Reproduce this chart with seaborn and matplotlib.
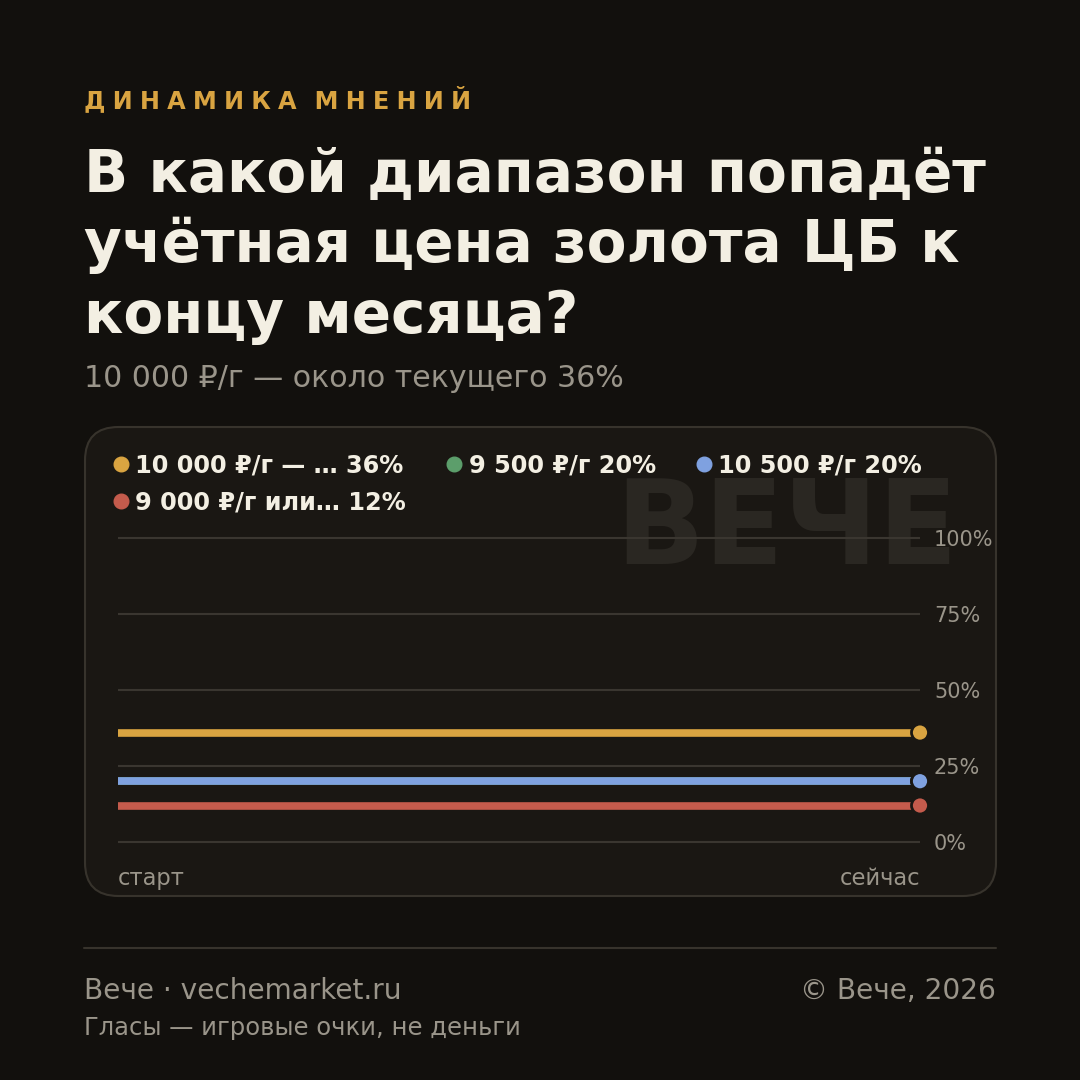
import numpy as np
import pandas as pd
import matplotlib
matplotlib.use("Agg")
import matplotlib.pyplot as plt
from matplotlib.patches import FancyBboxPatch
from matplotlib.lines import Line2D
import seaborn as sns

# ---- data ----
stages = ["старт", "сейчас"]
options = ["10 000 ₽/г — …", "9 500 ₽/г", "10 500 ₽/г", "9 000 ₽/г или…"]
start_values = [36, 20, 20, 12]
now_values = [36, 20, 20, 12]
option_colors = ["#d9a441", "#5c9e6b", "#7fa1e0", "#c45b4c"]
y_ticks = [0, 25, 50, 75, 100]
y_tick_labels = ["0%", "25%", "50%", "75%", "100%"]

kicker = "ДИНАМИКА МНЕНИЙ"
title_lines = ["В какой диапазон попадёт", "учётная цена золота ЦБ к", "концу месяца?"]
subtitle = "10 000 ₽/г — около текущего 36%"
watermark = "ВЕЧЕ"
footer_left = "Вече · vechemarket.ru"
footer_right = "© Вече, 2026"
footer_note = "Гласы — игровые очки, не деньги"

# ---- style ----
BG = "#12100d"
CARD = "#1a1713"
CARD_EDGE = "#37332c"
GRID = "#3a3630"
CREAM = "#f3efe3"
GREY = "#9a958a"
GOLD = "#d9a441"

sns.set_theme(style="dark")
plt.rcParams["font.family"] = ["DejaVu Sans"]

W = 1080.0
fig = plt.figure(figsize=(10.8, 10.8), dpi=100, facecolor=BG)

def fy(px):
    return 1 - px / W

def fx(px):
    return px / W

# card
card = FancyBboxPatch((fx(85), fy(896)), 911 / W, 469 / W,
                      boxstyle="round,pad=0,rounding_size=0.031",
                      transform=fig.transFigure, fc=CARD, ec=CARD_EDGE, lw=1.5, zorder=-2)
fig.patches.append(card)

# watermark
fig.text(fx(958), fy(564), watermark, fontsize=84, fontweight="bold", color="#2a2722",
         ha="right", va="baseline", zorder=-1)

# axes
px_per_unit = 304 / 100.0
ax = fig.add_axes([fx(118), fy(850), (920 - 118) / W, 320 / W])
ax.set_facecolor("none")
ax.patch.set_alpha(0)

rows = []
for i, opt in enumerate(options):
    rows.append({"stage": 0, "option": opt, "value": start_values[i]})
    rows.append({"stage": 1, "option": opt, "value": now_values[i]})
df = pd.DataFrame(rows)

pal = dict(zip(options, option_colors))
sns.lineplot(data=df, x="stage", y="value", hue="option", hue_order=options,
             palette=pal, linewidth=5.5, legend=False, ax=ax, zorder=3)
for ln in ax.lines:
    ln.set_solid_capstyle("butt")
    ln.set_clip_on(False)

last = df[df["stage"] == 1]
sns.scatterplot(data=last, x="stage", y="value", hue="option", hue_order=options,
                palette=pal, s=150, edgecolor=CARD, linewidth=2, legend=False,
                ax=ax, zorder=5, clip_on=False)

ax.set_xlim(0, 1)
ax.set_ylim(-8 / px_per_unit, 100 + 8 / px_per_unit)
ax.set_yticks(y_ticks)
ax.set_yticklabels(y_tick_labels)
ax.yaxis.tick_right()
ax.tick_params(axis="y", length=0, pad=10, labelsize=15, labelcolor=GREY)
ax.set_xticks([0, 1])
ax.set_xticklabels(stages)
ax.tick_params(axis="x", length=0, pad=12, labelsize=16.3, labelcolor=GREY)
xl = ax.get_xticklabels()
xl[0].set_ha("left")
xl[1].set_ha("right")
ax.set_xlabel("")
ax.set_ylabel("")
ax.grid(False)
for yv in y_ticks:
    ax.axhline(yv, color=GRID, lw=1.5, zorder=1)
for s in ax.spines.values():
    s.set_visible(False)

# legend (ordered so that column-major fill gives row1: 1,2,3; row2: 4)
order = [0, 3, 1, 2]
handles = []
for i in order:
    handles.append(Line2D([], [], marker="o", linestyle="none", markersize=10.5,
                          markerfacecolor=option_colors[i], markeredgecolor=option_colors[i],
                          label=f"{options[i]} {now_values[i]}%"))
leg = fig.legend(handles=handles, loc="upper left", bbox_to_anchor=(fx(113), fy(453)),
                 ncol=3, frameon=False, borderpad=0, borderaxespad=0,
                 handlelength=0.65, handletextpad=0.28, columnspacing=1.67, labelspacing=0.57,
                 prop={"size": 17.3, "weight": "bold"})
for t in leg.get_texts():
    t.set_color(CREAM)

# header texts (letter-spaced kicker)
spacer = "\u2009\u200a"
kick = "\u2009 \u2009".join(spacer.join(list(w)) for w in kicker.split(" "))
fig.text(fx(84), fy(108), kick, fontsize=17.3, fontweight="bold", color=GOLD,
         ha="left", va="baseline")
for i, line in enumerate(title_lines):
    fig.text(fx(84), fy(192 + 70.5 * i), line, fontsize=41.8, fontweight="bold",
             color=CREAM, ha="left", va="baseline")
fig.text(fx(84), fy(387), subtitle, fontsize=21.6, color=GREY, ha="left", va="baseline")

# footer
fig.add_artist(Line2D([fx(84), fx(996)], [fy(948), fy(948)], color=CARD_EDGE, lw=1.5,
                      transform=fig.transFigure))
fig.text(fx(84), fy(999), footer_left, fontsize=20.2, color=GREY, ha="left", va="baseline")
fig.text(fx(996), fy(999), footer_right, fontsize=20.2, color=GREY, ha="right", va="baseline")
fig.text(fx(84), fy(1035), footer_note, fontsize=17.5, color=GREY, ha="left", va="baseline")

fig.savefig("out.png", dpi=100, facecolor=BG)
